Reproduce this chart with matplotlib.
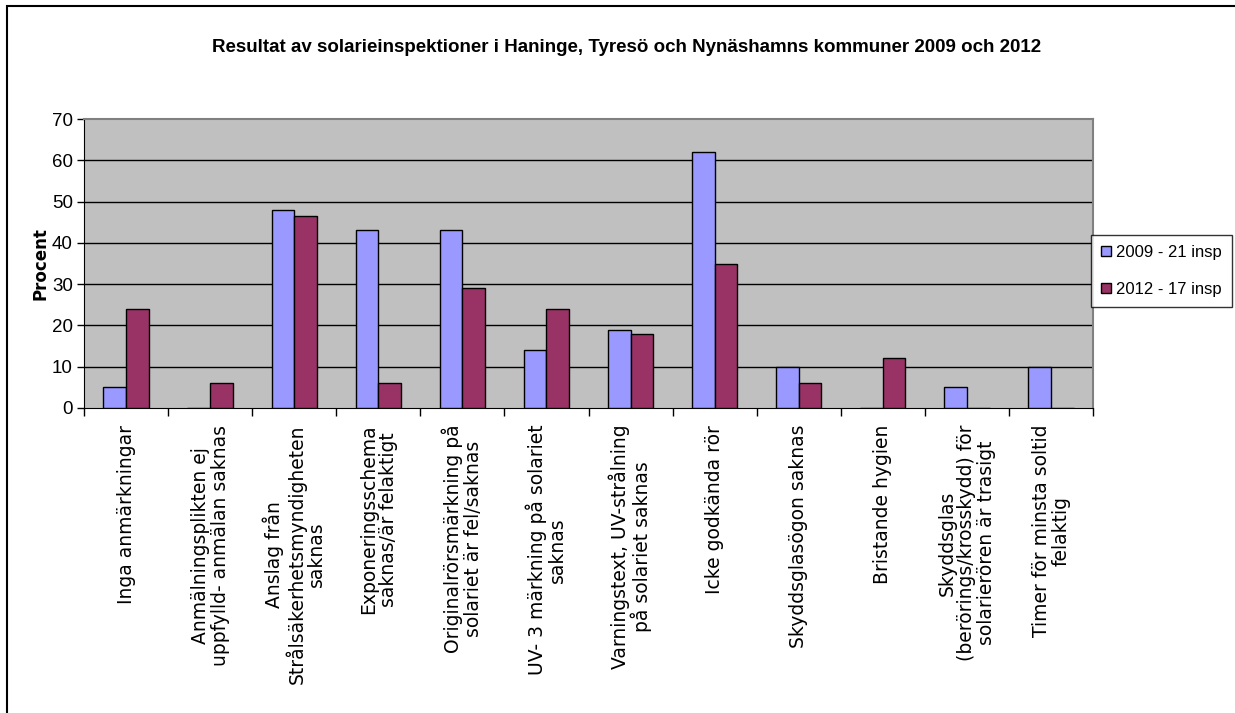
import matplotlib.pyplot as plt
import numpy as np
from matplotlib.patches import Rectangle

plt.rcParams['font.family'] = ['Liberation Sans', 'DejaVu Sans']

# kategorier och värden (procent)
categories = [
    "Inga anmärkningar",
    "Anmälningsplikten ej\nuppfylld- anmälan saknas",
    "Anslag från\nStrålsäkerhetsmyndigheten\nsaknas",
    "Exponeringsschema\nsaknas/är felaktigt",
    "Originalrörsmärkning på\nsolariet är fel/saknas",
    "UV- 3 märkning på solariet\nsaknas",
    "Varningstext, UV-strålning\npå solariet saknas",
    "Icke godkända rör",
    "Skyddsglasögon saknas",
    "Bristande hygien",
    "Skyddsglas\n(berörings/krosskydd) för\nsolarierören är trasigt",
    "Timer för minsta soltid\nfelaktig",
]
values_2009 = [5, 0, 48, 43, 43, 14, 19, 62, 10, 0, 5, 10]
values_2012 = [24, 6, 46.5, 6, 29, 24, 18, 35, 6, 12, 0, 0]
series_labels = ["2009 - 21 insp", "2012 - 17 insp"]
yticks = [0, 10, 20, 30, 40, 50, 60, 70]

fig = plt.figure(figsize=(12.35, 7.13), dpi=100)
ax = fig.add_axes([84 / 1235, 1 - 408 / 713, (1093 - 84) / 1235, (408 - 119) / 713])

x = np.arange(len(categories))
w = 0.27
ax.bar(x - w / 2, values_2009, w, color="#9999FF", edgecolor="black", linewidth=1, label=series_labels[0], zorder=3)
ax.bar(x + w / 2, values_2012, w, color="#993366", edgecolor="black", linewidth=1, label=series_labels[1], zorder=3)

ax.set_facecolor("#C0C0C0")
ax.set_xlim(-0.5, len(categories) - 0.5)
ax.set_ylim(0, 70)
ax.set_yticks(yticks)
ax.tick_params(axis="y", length=5, direction="out", width=1, pad=3, labelsize=13.5)
for y in yticks[1:-1]:
    ax.axhline(y, color="black", linewidth=1, zorder=1)

# ticks vid kategorigränserna, etiketter i mitten
ax.set_xticks(np.arange(-0.5, len(categories), 1))
ax.set_xticklabels([])
ax.tick_params(axis="x", which="major", length=6, direction="out", width=1)
ax.set_xticks(x, minor=True)
ax.set_xticklabels(categories, minor=True, rotation=90, fontsize=13.5, family="DejaVu Sans",
                   ha="center", va="top", multialignment="center", linespacing=1.05)
ax.tick_params(axis="x", which="minor", length=0, pad=12)

for s in ["top", "right"]:
    ax.spines[s].set_color("#808080")
    ax.spines[s].set_linewidth(1.5)
for s in ["left", "bottom"]:
    ax.spines[s].set_color("black")

ax.set_ylabel("Procent", fontsize=12, fontweight="bold", family="DejaVu Sans", labelpad=2)

fig.suptitle("Resultat av solarieinspektioner i Haninge, Tyresö och Nynäshamns kommuner 2009 och 2012",
             x=0.507, y=1 - 47 / 713, va="center", fontsize=13.5, fontweight="bold")

leg = ax.legend(loc="upper left", bbox_to_anchor=(1091 / 1235, 1 - 235 / 713),
                bbox_transform=fig.transFigure, fontsize=12, frameon=True, fancybox=False,
                handlelength=0.6, handleheight=0.6, handletextpad=0.3, borderaxespad=0,
                labelspacing=1.3, borderpad=0.6)
leg.get_frame().set_edgecolor("black")
leg.get_frame().set_linewidth(1)

# ram runt figuren
fig.patches.append(Rectangle((7 / 1235, -0.01), 1.2, 1 - 6 / 713 + 0.01, transform=fig.transFigure,
                             fill=False, edgecolor="black", linewidth=1.5))

fig.savefig("out.png", dpi=100)
